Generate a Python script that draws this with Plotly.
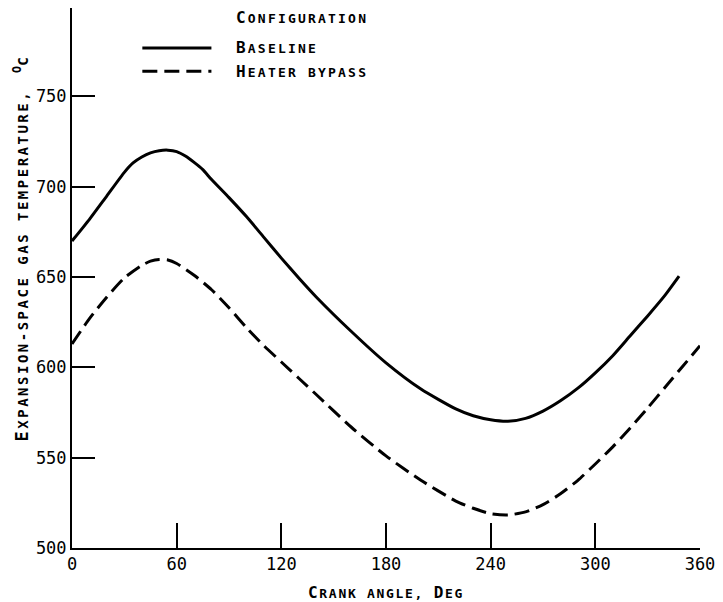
import plotly.graph_objects as go

# Data
baseline_angle = [0, 10, 20, 30, 35, 40, 45, 50, 55, 60, 65, 70, 75, 80, 90, 100, 110, 120, 130, 140,
                  160, 180, 200, 220, 230, 240, 250, 260, 270, 280, 290, 300, 310, 320, 330, 340, 348]
baseline_temp = [670, 682, 695, 708, 713.2, 716.5, 718.8, 720, 720.3, 719.5, 717, 713.5, 709.5, 704, 694, 683.5, 672, 660.5, 649.5, 639,
                 620, 602.5, 588, 577, 573.2, 571, 570.2, 571.8, 575.8, 581.5, 588.5, 597, 606.5, 617.5, 628.5, 640, 650.5]

bypass_angle = [0, 10, 20, 30, 40, 45, 50, 55, 60, 70, 80, 90, 100, 110, 120, 130, 140,
                160, 180, 200, 220, 230, 240, 250, 260, 270, 280, 290, 300, 310, 320, 330, 340, 350, 360]
bypass_temp = [613, 627, 639, 649.5, 656.5, 658.8, 659.8, 659.5, 657.5, 651, 643, 633, 622, 612, 603, 594, 585,
               567, 551, 537.5, 526, 522, 519, 518.3, 520, 524, 530, 537.5, 546.5, 556, 566.5, 577.5, 589, 600.5, 612]

x_ticks = [0, 60, 120, 180, 240, 300, 360]
y_ticks = [500, 550, 600, 650, 700, 750]

FONT = "DejaVu Sans Mono, Liberation Mono, monospace"
DASH = "15px,7px"


def sc(text, big=16, small=13, spacing=1.5, lower_words=()):
    """Render text in small caps: first letter of each word larger."""
    out = []
    for i, w in enumerate(text.split(" ")):
        if not w:
            continue
        if i in lower_words:
            out.append(f"<span style='font-size:{small}px;letter-spacing:{spacing}px'>{w}</span>")
            continue
        first, rest = w[0], w[1:]
        s = f"<span style='font-size:{big}px;letter-spacing:{spacing}px'>{first}</span>"
        if rest:
            s += f"<span style='font-size:{small}px;letter-spacing:{spacing}px'>{rest}</span>"
        out.append(s)
    return f"<span style='font-size:{small}px;letter-spacing:{spacing}px'> </span>".join(out)


fig = go.Figure()
fig.add_trace(go.Scatter(x=baseline_angle, y=baseline_temp, mode="lines", name="Baseline",
                         line=dict(color="black", width=3, shape="spline", smoothing=0.6),
                         showlegend=False))
fig.add_trace(go.Scatter(x=bypass_angle, y=bypass_temp, mode="lines", name="Heater bypass",
                         line=dict(color="black", width=3, dash=DASH, shape="spline", smoothing=0.6),
                         showlegend=False))

# Legend (drawn manually to match the original figure)
fig.add_shape(type="line", xref="paper", yref="paper", x0=0.112, x1=0.222, y0=0.926, y1=0.926,
              line=dict(color="black", width=3))
fig.add_shape(type="line", xref="paper", yref="paper", x0=0.112, x1=0.222, y0=0.883, y1=0.883,
              line=dict(color="black", width=3, dash=DASH))
leg_font = dict(family=FONT, color="black", weight="bold")
fig.add_annotation(xref="paper", yref="paper", x=0.258, y=0.983, xanchor="left", yanchor="middle",
                   text=sc("CONFIGURATION", 16, 13, 2.2), showarrow=False, font=leg_font)
fig.add_annotation(xref="paper", yref="paper", x=0.258, y=0.926, xanchor="left", yanchor="middle",
                   text=sc("BASELINE", 16, 13, 2.2), showarrow=False, font=leg_font)
fig.add_annotation(xref="paper", yref="paper", x=0.258, y=0.883, xanchor="left", yanchor="middle",
                   text=sc("HEATER BYPASS", 16, 13, 2.2, lower_words=(1,)), showarrow=False, font=leg_font)

# Axis titles
fig.add_annotation(xref="paper", yref="paper", x=0.5, y=-0.082, xanchor="center", yanchor="middle",
                   text=sc("CRANK ANGLE, DEG", 16, 13, 1.7, lower_words=(1,)), showarrow=False,
                   font=leg_font)
fig.add_annotation(xref="paper", yref="paper", x=-0.082, y=0.552, xanchor="center", yanchor="middle",
                   textangle=-90,
                   text=sc("EXPANSION-SPACE GAS TEMPERATURE,", 17, 14, 2.5, lower_words=(1, 2))
                   + "<span style='font-size:14px'>  </span><sup>O</sup><span style='font-size:14px'>C</span>",
                   showarrow=False, font=leg_font)

fig.update_layout(
    width=723, height=602,
    margin=dict(l=72, r=16, t=8, b=54),
    plot_bgcolor="white", paper_bgcolor="white",
    font=dict(family=FONT, color="black", size=17),
    xaxis=dict(range=[0, 360], tickvals=x_ticks, ticktext=[str(v) for v in x_ticks],
               ticks="inside", ticklen=25, tickwidth=2, tickcolor="black",
               showline=True, linecolor="black", linewidth=2, showgrid=False, zeroline=False,
               tickfont=dict(size=17, family=FONT)),
    yaxis=dict(range=[500, 799], tickvals=y_ticks, ticktext=[str(v) for v in y_ticks],
               ticks="inside", ticklen=23, tickwidth=2, tickcolor="black",
               showline=True, linecolor="black", linewidth=2, showgrid=False, zeroline=False,
               tickfont=dict(size=17, family=FONT)),
)

fig.write_html("out.html")
